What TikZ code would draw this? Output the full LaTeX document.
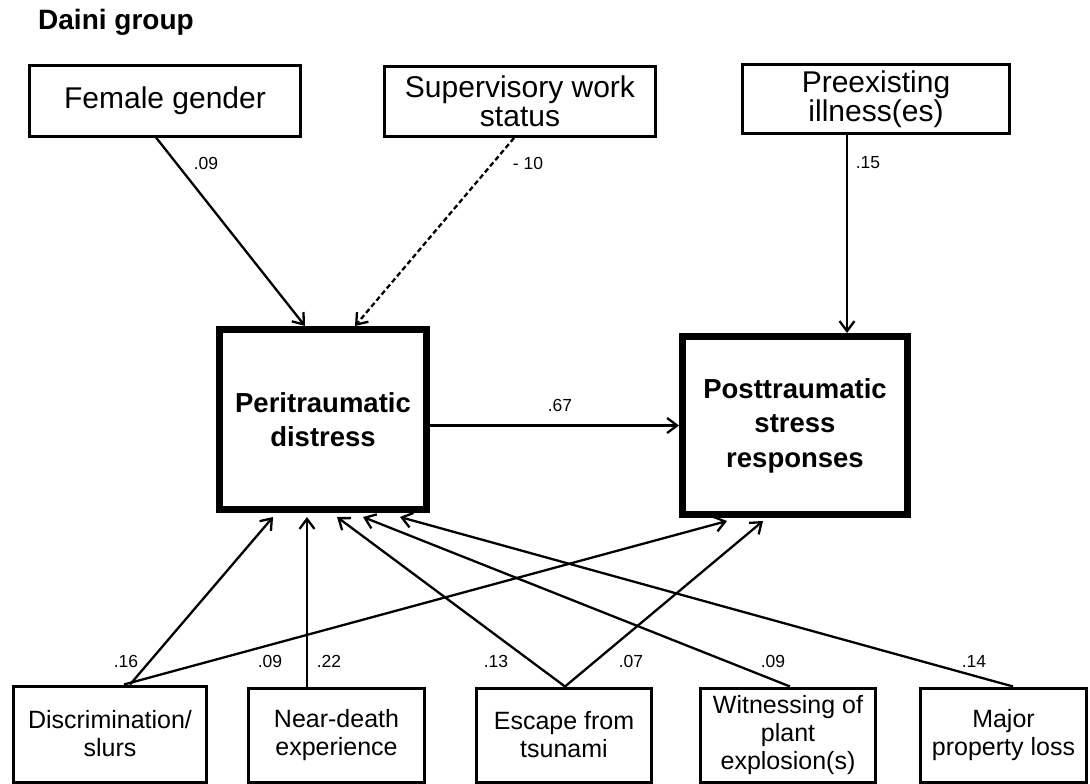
\documentclass[tikz,border=0pt]{standalone}
\usepackage{fontspec}
\setmainfont{Liberation Sans}
\usetikzlibrary{arrows.meta}
\begin{document}
\begin{tikzpicture}[x=1pt,y=-1pt,
  topbox/.style={draw, rectangle, line width=3pt, align=center, inner sep=0pt, font=\fontsize{30}{28.5}\selectfont},
  bigbox/.style={draw, rectangle, line width=7pt, align=center, inner sep=0pt, font=\bfseries\fontsize{27.5}{34.5}\selectfont},
  botbox/.style={draw, rectangle, line width=3pt, align=center, inner sep=0pt, font=\fontsize{25}{28}\selectfont},
  coef/.style={inner sep=0pt, font=\fontsize{17.5}{20}\selectfont},
  conn/.style={line width=2.3pt, -{Straight Barb[length=10pt,width=15pt]}},
  dconn/.style={conn, dash pattern=on 5pt off 3pt}
]
\useasboundingbox (0,0) rectangle (1090,784);

\node[anchor=base west, inner sep=0pt, font=\bfseries\fontsize{28}{30}\selectfont] (title) at (38,30) {Daini group};

% top boxes
\node[topbox, minimum width=271pt, minimum height=70pt] (fem) at (165,101) {Female gender};
\node[topbox, minimum width=271pt, minimum height=70pt] (sup) at (520,101.5) {Supervisory work\\status};
\node[topbox, minimum width=267pt, minimum height=69pt] (pre) at (876,99) {Preexisting\\illness(es)};

% central boxes
\node[bigbox, minimum width=207pt, minimum height=180pt] (peri) at (323,419.5) {Peritraumatic\\distress};
\node[bigbox, minimum width=225pt, minimum height=178pt] (post) at (795,425.5) {Posttraumatic\\stress\\responses};

% bottom boxes
\node[botbox, minimum width=193pt, minimum height=96pt] (disc) at (110,734) {Discrimination/\\slurs};
\node[botbox, minimum width=176pt, minimum height=94pt] (near) at (336.5,735) {Near-death\\experience};
\node[botbox, minimum width=175pt, minimum height=94pt] (esc) at (564,735) {Escape from\\tsunami};
\node[botbox, minimum width=175pt, minimum height=94pt] (wit) at (788,735) {Witnessing of\\plant\\explosion(s)};
\node[botbox, minimum width=166pt, minimum height=94pt] (maj) at (1003.5,735) {Major\\property loss};

% top arrows
\draw[conn] ([xshift=-9pt]fem.south) -- ([xshift=-18pt]peri.north);
\draw[dconn] ([xshift=-6pt]sup.south) -- ([xshift=32pt]peri.north);
\draw[conn] ([xshift=-29pt]pre.south) -- ([xshift=52pt]post.north);

% central arrow
\draw[conn] (peri.east |- post.west) -- (post.west);

% bottom arrows
\draw[conn] ([xshift=20pt]disc.north) -- ([xshift=-50pt,yshift=-4pt]peri.south);
\draw[conn] ([xshift=14pt]disc.north) -- ([xshift=-68pt,yshift=-3pt]post.south);
\draw[conn] ([xshift=-29.5pt]near.north) -- ([xshift=-16pt,yshift=-4pt]peri.south);
\draw[conn] ([xshift=1pt]esc.north) -- ([xshift=14pt,yshift=-4pt]peri.south);
\draw[conn] ([xshift=1pt]esc.north) -- ([xshift=-32pt,yshift=-3pt]post.south);
\draw[conn] ([xshift=2pt]wit.north) -- ([xshift=40pt,yshift=-4pt]peri.south);
\draw[conn] ([xshift=9.5pt]maj.north) -- ([xshift=77pt,yshift=-4pt]peri.south);

% coefficients
\node[coef] (c1) at (206,163) {.09};
\node[coef] (c2) at (528,163) {- 10};
\node[coef] (c3) at (868,163) {.15};
\node[coef] (c4) at (560,405) {.67};
\node[coef] (c5) at (126,661) {.16};
\node[coef] (c6) at (270,661) {.09};
\node[coef] (c7) at (329,661) {.22};
\node[coef] (c8) at (496,661) {.13};
\node[coef] (c9) at (631,661) {.07};
\node[coef] (c10) at (773,661) {.09};
\node[coef] (c11) at (974,661) {.14};
\end{tikzpicture}
\end{document}
